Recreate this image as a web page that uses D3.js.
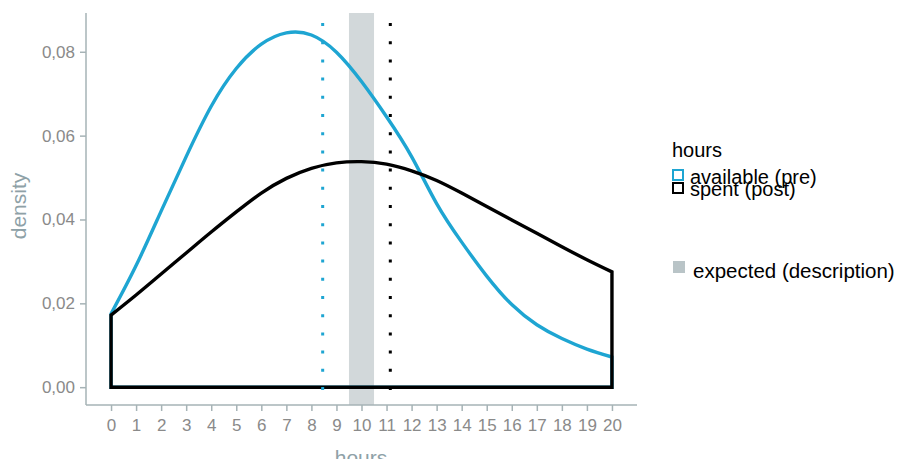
<!DOCTYPE html>
<html>
<head>
<meta charset="utf-8">
<script src="https://cdn.jsdelivr.net/npm/d3@7"></script>
<style>
  body { margin: 0; background: #fff; }
  svg { display: block; font-family: "Liberation Sans", Arial, sans-serif; }
</style>
</head>
<body>
<svg id="chart" width="904" height="459"></svg>
<script>
// data
var hours = [0,1,2,3,4,5,6,7,8,9,10,11,12,13,14,15,16,17,18,19,20];
var availablePre = [0.0175,0.029,0.042,0.055,0.067,0.076,0.0818,0.0845,0.0840,0.0799,0.0729,
                    0.0645,0.055,0.0438,0.0346,0.0265,0.0197,0.0149,0.0116,0.0091,0.0072];
var spentPost = [0.0172,0.022,0.027,0.032,0.037,0.0418,0.0463,0.0498,0.0522,0.0535,0.0538,
                 0.0532,0.0516,0.0493,0.0463,0.0431,0.0399,0.0367,0.0335,0.0304,0.0275];
var meanPre = 8.45;
var meanPost = 11.15;
var expectedBand = [9.5, 10.5];
var yTicks = [0, 0.02, 0.04, 0.06, 0.08];
var seriesNames = ["available (pre)", "spent (post)"];
var seriesColors = ["#1ea5d2", "#000000"];
var bandName = "expected (description)";

var svg = d3.select("#chart");

var x = d3.scaleLinear().domain([-1, 21]).range([86, 637]);
var y = d3.scaleLinear().domain([-0.00425, 0.08925]).range([405, 13]);

var axisCol = "#a6b3b6";
var tickTextCol = "#8a8a8a";
var titleCol = "#8ea1a7";

// expected band
svg.append("rect")
   .attr("x", x(expectedBand[0]))
   .attr("y", y.range()[1])
   .attr("width", x(expectedBand[1]) - x(expectedBand[0]))
   .attr("height", y.range()[0] - y.range()[1])
   .attr("fill", "#d2d8da");

// densities
var rows = [availablePre, spentPost];
rows.forEach(function(vals, k){
  var area = d3.area()
      .x(function(d,i){ return x(hours[i]); })
      .y0(y(0))
      .y1(function(d){ return y(d); })
      .curve(d3.curveNatural);
  svg.append("path")
     .attr("d", area(vals))
     .attr("fill", "none")
     .attr("stroke", seriesColors[k])
     .attr("stroke-width", 3.4)
     .attr("stroke-linejoin", "miter");
});

// mean lines
[[meanPre, seriesColors[0]], [meanPost, seriesColors[1]]].forEach(function(m){
  svg.append("line")
     .attr("x1", x(m[0])).attr("x2", x(m[0]))
     .attr("y1", y.range()[1] + 10).attr("y2", y.range()[0])
     .attr("stroke", m[1])
     .attr("stroke-width", 3)
     .attr("stroke-dasharray", "3,15.2");
});

// axes
var xAxis = svg.append("g")
   .attr("transform", "translate(0," + 405 + ")")
   .call(d3.axisBottom(x).tickValues(hours).tickSize(6).tickPadding(8));
var yAxis = svg.append("g")
   .attr("transform", "translate(" + 86 + ",0)")
   .call(d3.axisLeft(y).tickValues(yTicks).tickSize(6).tickPadding(5)
          .tickFormat(function(d){ return d3.format(".2f")(d).replace(".", ","); }));

[xAxis, yAxis].forEach(function(g){
  g.select(".domain").remove();
  g.selectAll(".tick line").attr("stroke", axisCol).attr("stroke-width", 1.5);
  g.selectAll(".tick text").attr("fill", tickTextCol).style("font-size", "17px")
   .style("font-family", "'Liberation Sans', Arial, sans-serif");
});

svg.append("line").attr("x1", 86).attr("x2", 86).attr("y1", 13).attr("y2", 405)
   .attr("stroke", axisCol).attr("stroke-width", 1.5);
svg.append("line").attr("x1", 86).attr("x2", 637).attr("y1", 405).attr("y2", 405)
   .attr("stroke", axisCol).attr("stroke-width", 1.5);

// axis titles
svg.append("text")
   .attr("x", 361).attr("y", 465)
   .attr("text-anchor", "middle")
   .attr("fill", titleCol)
   .style("font-size", "21px")
   .text("hours");
svg.append("text")
   .attr("transform", "translate(26,206) rotate(-90)")
   .attr("text-anchor", "middle")
   .attr("fill", titleCol)
   .style("font-size", "21px")
   .text("density");

// legend
var lg = svg.append("g");
lg.append("text").attr("x", 672).attr("y", 157).attr("fill", "#000")
  .style("font-size", "20px").text("hours");
seriesNames.forEach(function(n, i){
  lg.append("rect")
    .attr("x", 673).attr("y", 170 + i * 13)
    .attr("width", 10).attr("height", 10)
    .attr("fill", "#fff")
    .attr("stroke", seriesColors[i])
    .attr("stroke-width", 2);
  lg.append("text")
    .attr("x", 690).attr("y", 184 + i * 12)
    .attr("fill", "#000")
    .style("font-size", "20px")
    .text(n);
});
lg.append("rect")
  .attr("x", 673).attr("y", 261)
  .attr("width", 12).attr("height", 12)
  .attr("fill", "#b9c4c7");
lg.append("text")
  .attr("x", 693).attr("y", 278)
  .attr("fill", "#000")
  .style("font-size", "20.5px")
  .text(bandName);
</script>
</body>
</html>
